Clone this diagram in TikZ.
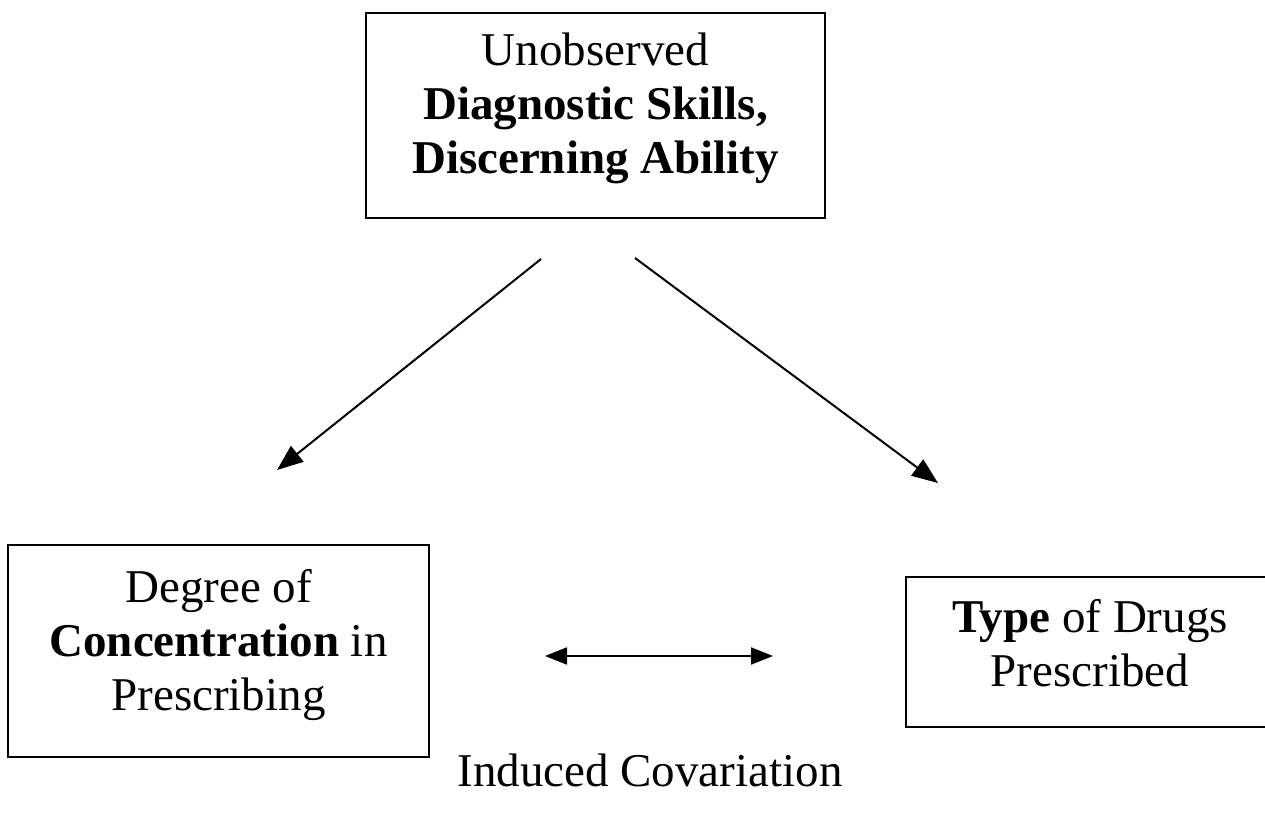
\documentclass[tikz,border=0pt]{standalone}
\usepackage{fontspec}
\setmainfont{Liberation Serif}
\usetikzlibrary{arrows.meta}
\begin{document}
\begin{tikzpicture}[x=1pt,y=-1pt,
  txt/.style={font=\fontsize{47}{54}\selectfont,align=center,inner sep=0pt},
  box/.style={draw,line width=2pt,rectangle,inner sep=0pt},
  conn/.style={line width=2pt,-{Triangle[length=26pt,width=20pt]}},
  dconn/.style={line width=2pt,{Triangle[length=22pt,width=17pt]}-{Triangle[length=22pt,width=17pt]}}]
\useasboundingbox (0,0) rectangle (1265,814);
\node[box,minimum width=459pt,minimum height=205pt] (top) at (595.5,115.5) {};
\node[box,minimum width=421pt,minimum height=212pt] (left) at (218.5,651) {};
\node[box,minimum width=374pt,minimum height=150pt] (right) at (1093,652) {};
\node[txt] (toptxt) at ([yshift=7pt]top.center)
  {Unobserved\\\textbf{Diagnostic Skills,}\\\textbf{Discerning Ability}};
\node[txt] (lefttxt) at ([yshift=6pt]left.center)
  {Degree of\\\textbf{Concentration} in\\Prescribing};
\node[txt] (righttxt) at ([xshift=-3pt,yshift=9pt]right.center)
  {\textbf{Type} of Drugs\\Prescribed};
\node[txt] (cov) at (650,770) {Induced Covariation};
\coordinate (ls) at (541,259);
\coordinate (le) at (277,470);
\coordinate (rs) at (635,258);
\coordinate (re) at (938,483);
\coordinate (ds) at (545,656);
\coordinate (de) at (773,656);
\draw[conn] (ls) -- (le);
\draw[conn] (rs) -- (re);
\draw[dconn] (ds) -- (de);
\end{tikzpicture}
\end{document}
